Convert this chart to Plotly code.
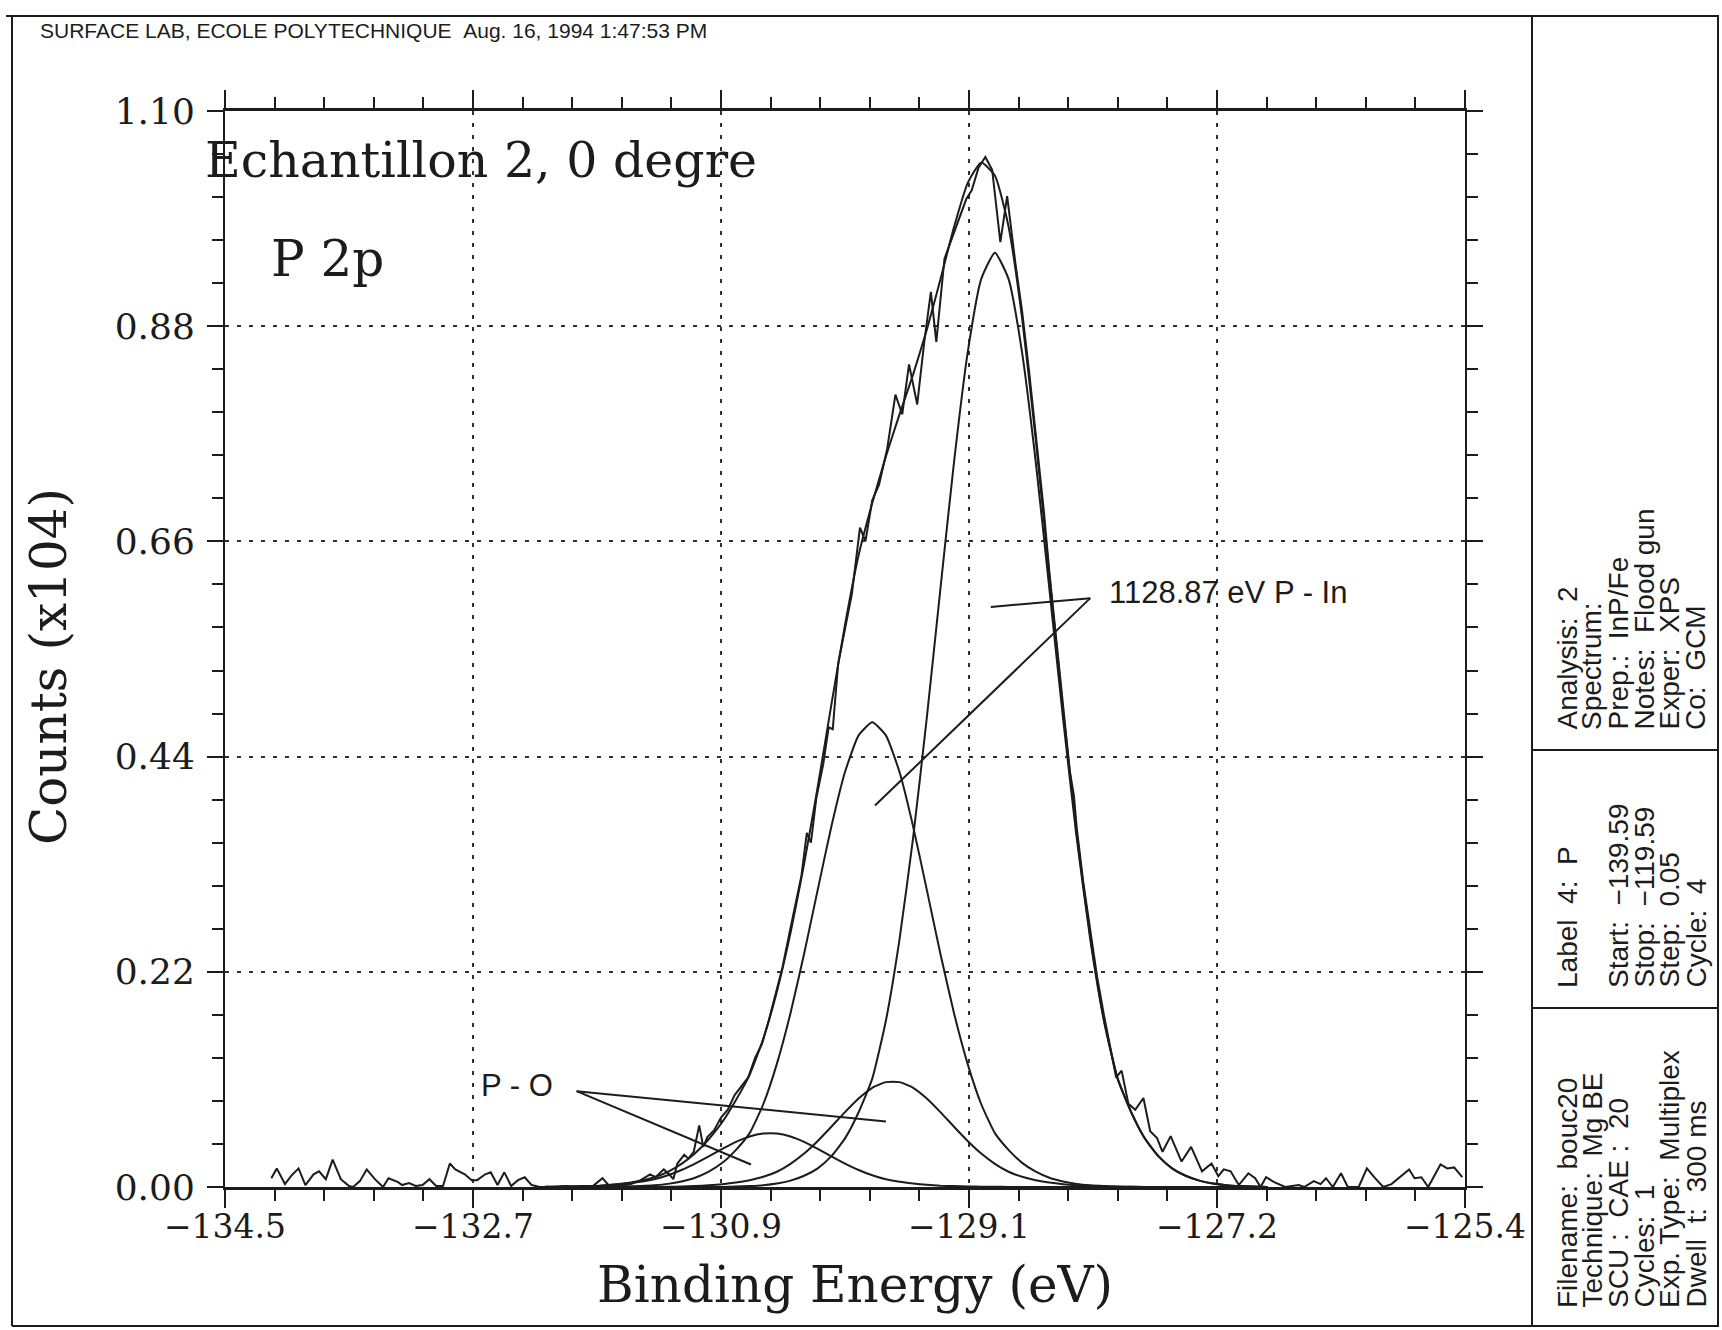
import plotly.graph_objects as go

# ---------------------------------------------------------------- data
# Energy grid (eV) shared by the fitted envelope and its four components
fit_energy = [
    -132.15, -132.05, -131.95, -131.85, -131.75, -131.65, -131.55, -131.45, -131.35, -131.25,
    -131.15, -131.05, -130.95, -130.85, -130.75, -130.65, -130.55, -130.45, -130.35, -130.25,
    -130.15, -130.05, -129.95, -129.85, -129.75, -129.65, -129.55, -129.45, -129.35, -129.25,
    -129.15, -129.05, -128.95, -128.85, -128.75, -128.65, -128.55, -128.45, -128.35, -128.25,
    -128.15, -128.05, -127.95, -127.85, -127.75, -127.65, -127.55, -127.45, -127.35, -127.25,
    -127.15, -127.05, -126.95, -126.85,
]

# Sum of the fitted peaks (counts x 10^4)
fit_envelope = [
    0.0002, 0.0003, 0.0005, 0.0009, 0.0014, 0.0025, 0.0041, 0.0064, 0.0099, 0.0155,
    0.0236, 0.0345, 0.0488, 0.0665, 0.0890, 0.1147, 0.1515, 0.1997, 0.2595, 0.3303,
    0.4092, 0.4931, 0.5745, 0.6460, 0.6992, 0.7468, 0.7898, 0.8308, 0.8762, 0.9277,
    0.9813, 1.0263, 1.0474, 1.0340, 0.9820, 0.8879, 0.7638, 0.6252, 0.4879, 0.3621,
    0.2559, 0.1715, 0.1116, 0.0768, 0.0498, 0.0315, 0.0191, 0.0115, 0.0065, 0.0036,
    0.0019, 0.0010, 0.0004, 0.0,
]

# P - In doublet, 2p3/2 and 2p1/2
peak_p_in_a = [
    0.0, 0.0, 0.0, 0.0, 0.0, 0.0, 0.0, 0.0, 0.0, 0.0,
    0.0, 0.0, 0.0, 0.0, 0.0004, 0.0010, 0.0019, 0.0036, 0.0065, 0.0115,
    0.0191, 0.0315, 0.0497, 0.0764, 0.1108, 0.1700, 0.2531, 0.3572, 0.4794, 0.6112,
    0.7411, 0.8528, 0.9283, 0.9550, 0.9283, 0.8528, 0.7411, 0.6112, 0.4794, 0.3572,
    0.2531, 0.1700, 0.1108, 0.0764, 0.0497, 0.0315, 0.0191, 0.0115, 0.0065, 0.0036,
    0.0019, 0.0010, 0.0004, 0.0,
]
peak_p_in_b = [
    0.0, 0.0, 0.0, 0.0, 0.0, 0.0002, 0.0005, 0.0010, 0.0018, 0.0032,
    0.0057, 0.0095, 0.0157, 0.0247, 0.0380, 0.0551, 0.0846, 0.1259, 0.1777, 0.2385,
    0.3040, 0.3686, 0.4242, 0.4617, 0.4750, 0.4617, 0.4242, 0.3686, 0.3040, 0.2385,
    0.1777, 0.1259, 0.0846, 0.0551, 0.0380, 0.0247, 0.0157, 0.0095, 0.0057, 0.0032,
    0.0018, 0.0010, 0.0005, 0.0002, 0.0, 0.0, 0.0, 0.0, 0.0, 0.0,
    0.0, 0.0, 0.0, 0.0,
]

# P - O doublet
peak_p_o_a = [
    0.0, 0.0, 0.0, 0.0, 0.0, 0.0, 0.0, 0.0001, 0.0002, 0.0003,
    0.0005, 0.0010, 0.0017, 0.0028, 0.0045, 0.0070, 0.0104, 0.0156, 0.0237, 0.0342,
    0.0471, 0.0616, 0.0766, 0.0905, 0.1014, 0.1072, 0.1072, 0.1014, 0.0905, 0.0766,
    0.0616, 0.0471, 0.0342, 0.0237, 0.0156, 0.0104, 0.0070, 0.0045, 0.0028, 0.0017,
    0.0010, 0.0005, 0.0003, 0.0002, 0.0001, 0.0, 0.0, 0.0, 0.0, 0.0,
    0.0, 0.0, 0.0, 0.0,
]
peak_p_o_b = [
    0.0002, 0.0003, 0.0005, 0.0009, 0.0014, 0.0023, 0.0036, 0.0053, 0.0079, 0.0120,
    0.0174, 0.0240, 0.0314, 0.0390, 0.0461, 0.0516, 0.0546, 0.0546, 0.0516, 0.0461,
    0.0390, 0.0314, 0.0240, 0.0174, 0.0120, 0.0079, 0.0053, 0.0036, 0.0023, 0.0014,
    0.0009, 0.0005, 0.0003, 0.0002, 0.0001, 0.0, 0.0, 0.0, 0.0, 0.0,
    0.0, 0.0, 0.0, 0.0, 0.0, 0.0, 0.0, 0.0, 0.0, 0.0,
    0.0, 0.0, 0.0, 0.0,
]

# Measured spectrum
raw_energy = [
    -134.16, -134.12, -134.06, -134.01, -133.96, -133.91, -133.85, -133.81, -133.76, -133.71,
    -133.65, -133.59, -133.56, -133.51, -133.46, -133.40, -133.34, -133.30, -133.23, -133.20,
    -133.15, -133.10, -133.05, -133.00, -132.95, -132.90, -132.85, -132.81, -132.74, -132.69,
    -132.65, -132.59, -132.55, -132.50, -132.45, -132.40, -132.35, -132.30, -132.25, -132.19,
    -132.10, -132.00, -131.90, -131.80, -131.73, -131.68, -131.60, -131.52, -131.45, -131.38,
    -131.34, -131.28, -131.24, -131.21, -131.18, -131.13, -131.10, -131.06, -131.02, -130.99,
    -130.96, -130.91, -130.86, -130.81, -130.76, -130.72, -130.66, -130.61, -130.56, -130.51,
    -130.46, -130.41, -130.36, -130.31, -130.27, -130.23, -130.20, -130.16, -130.11, -130.07,
    -130.04, -130.00, -129.95, -129.90, -129.84, -129.80, -129.75, -129.70, -129.64, -129.58,
    -129.53, -129.48, -129.42, -129.37, -129.32, -129.28, -129.22, -129.17, -129.11, -129.06,
    -129.02, -128.97, -128.92, -128.87, -128.81, -128.76, -128.70, -128.65, -128.60, -128.55,
    -128.52, -128.49, -128.45, -128.40, -128.35, -128.30, -128.27, -128.25, -128.20, -128.15,
    -128.10, -128.05, -128.00, -127.96, -127.92, -127.87, -127.82, -127.76, -127.71, -127.66,
    -127.62, -127.56, -127.48, -127.41, -127.33, -127.26, -127.21, -127.17, -127.12, -127.06,
    -126.99, -126.94, -126.90, -126.86, -126.80, -126.72, -126.62, -126.58, -126.51, -126.46,
    -126.42, -126.37, -126.31, -126.26, -126.18, -126.12, -126.06, -126.00, -125.94, -125.89,
    -125.81, -125.77, -125.72, -125.67, -125.58, -125.53, -125.48, -125.42,
]
raw_counts = [
    0.009, 0.019, 0.003, 0.012, 0.019, 0.002, 0.013, 0.016, 0.008, 0.028,
    0.008, 0.001, 0.000, 0.006, 0.018, 0.008, 0.000, 0.009, 0.005, 0.002,
    0.004, 0.001, 0.002, 0.008, 0.001, 0.001, 0.024, 0.018, 0.013, 0.007,
    0.007, 0.013, 0.015, 0.002, 0.015, 0.001, 0.007, 0.010, 0.002, 0.000,
    0.000, 0.001, 0.000, 0.001, 0.009, 0.001, 0.001, 0.003, 0.007, 0.013,
    0.010, 0.018, 0.013, 0.008, 0.024, 0.033, 0.029, 0.036, 0.063, 0.041,
    0.051, 0.058, 0.071, 0.079, 0.094, 0.101, 0.112, 0.132, 0.146, 0.170,
    0.196, 0.224, 0.258, 0.290, 0.318, 0.362, 0.352, 0.398, 0.432, 0.470,
    0.468, 0.535, 0.572, 0.606, 0.674, 0.660, 0.702, 0.718, 0.755, 0.810,
    0.790, 0.841, 0.800, 0.862, 0.915, 0.864, 0.949, 0.968, 0.989, 1.010,
    1.019, 1.042, 1.053, 1.040, 0.966, 1.013, 0.945, 0.895, 0.835, 0.768,
    0.735, 0.690, 0.628, 0.560, 0.490, 0.425, 0.400, 0.368, 0.310, 0.262,
    0.215, 0.176, 0.140, 0.112, 0.119, 0.085, 0.079, 0.091, 0.057, 0.050,
    0.036, 0.052, 0.026, 0.041, 0.016, 0.024, 0.011, 0.018, 0.016, 0.002,
    0.014, 0.009, 0.000, 0.010, 0.005, 0.000, 0.002, 0.000, 0.006, 0.003,
    0.009, 0.000, 0.014, 0.000, 0.000, 0.019, 0.009, 0.000, 0.003, 0.009,
    0.018, 0.009, 0.010, 0.000, 0.023, 0.019, 0.020, 0.010,
]

# Axis labelling
x_tick_labels = ["\u2212134.5", "\u2212132.7", "\u2212130.9", "\u2212129.1", "\u2212127.2", "\u2212125.4"]
y_tick_labels = ["0.00", "0.22", "0.44", "0.66", "0.88", "1.10"]
x_range = [-134.5, -125.4]
y_range = [0.0, 1.10]

# Acquisition summary printed in the side panel (three boxes)
panel_analysis = ["Analysis:  2", "Spectrum:", "Prep.:  InP/Fe", "Notes:  Flood gun", "Exper:  XPS", "Co:  GCM"]
panel_region = ["Label  4:  P", "", "Start:  \u2212139.59", "Stop:  \u2212119.59", "Step:  0.05", "Cycle:  4"]
panel_file = ["Filename:  bouc20", "Technique:  Mg BE", "SCU :  CAE :  20", "Cycles:  1",
              "Exp. Type:  Multiplex", "Dwell  t:  300 ms"]

# ---------------------------------------------------------------- layout
W, H = 1722, 1330
L, R, T, B = 225, 1465, 111, 1187          # plot area in pixels
INK = "#1c1c1c"
SERIF = "DejaVu Serif"
SANS = "Liberation Sans, Arial, sans-serif"


def px(xp):
    return (xp - L) / (R - L)


def py(yp):
    return (B - yp) / (B - T)


n_major = len(x_tick_labels)
x_step = (x_range[1] - x_range[0]) / (n_major - 1)
x_major = [x_range[0] + i * x_step for i in range(n_major)]
x_minor = [x_range[0] + j * x_step / 5 for j in range(5 * (n_major - 1) + 1) if j % 5]
y_step = (y_range[1] - y_range[0]) / (len(y_tick_labels) - 1)
y_major = [y_range[0] + i * y_step for i in range(len(y_tick_labels))]
y_minor = [y_range[0] + j * y_step / 5 for j in range(5 * (len(y_tick_labels) - 1) + 1) if j % 5]

fig = go.Figure()

curve = dict(color=INK, width=2, shape="spline", smoothing=0.5)
for comp in (peak_p_o_b, peak_p_o_a, peak_p_in_b, peak_p_in_a):
    fig.add_trace(go.Scatter(x=fit_energy, y=comp, mode="lines", line=curve, hoverinfo="skip"))
fig.add_trace(go.Scatter(x=fit_energy, y=fit_envelope, mode="lines", line=curve, hoverinfo="skip"))
fig.add_trace(go.Scatter(x=raw_energy, y=raw_counts, mode="lines",
                         line=dict(color=INK, width=2), hoverinfo="skip"))

axis_common = dict(
    tickmode="array", ticks="outside", tickwidth=2, tickcolor=INK,
    showline=True, linecolor=INK, mirror="ticks",
    showgrid=True, gridcolor="#303030", gridwidth=2, griddash="4px,8px",
    zeroline=False,
)

fig.update_xaxes(
    range=x_range, tickvals=x_major, ticktext=x_tick_labels, ticklen=18, linewidth=3,
    minor=dict(tickvals=x_minor, ticklen=11, tickwidth=2, tickcolor=INK, showgrid=False),
    ticklabelstandoff=-10, tickfont=dict(family=SERIF, size=33, color=INK), **axis_common,
)
fig.update_yaxes(
    range=y_range, tickvals=y_major, ticktext=y_tick_labels, ticklen=16, linewidth=2,
    minor=dict(tickvals=y_minor, ticklen=11, tickwidth=2, tickcolor=INK, showgrid=False),
    ticklabelstandoff=5, tickfont=dict(family=SERIF, size=36, color=INK), **axis_common,
)

shapes = []
# outer frame and the side-panel boxes
frame = dict(type="line", xref="paper", yref="paper", line=dict(color=INK, width=2))
for (x0, y0, x1, y1) in [
    (6, 16, 1719, 16), (12, 16, 12, 1326), (12, 1326, 1719, 1326), (1718, 16, 1718, 1326),
    (1532, 16, 1532, 1326), (1532, 750, 1718, 750), (1532, 1008, 1718, 1008),
]:
    shapes.append(dict(frame, x0=px(x0), y0=py(y0), x1=px(x1), y1=py(y1)))

# leader lines of the peak labels
p_in_origin = (-128.15, 0.602)
p_in_targets = [(-128.88, 0.593), (-129.73, 0.390)]
p_o_origin = (-131.92, 0.098)
p_o_targets = [(-129.65, 0.067), (-130.64, 0.023)]
for origin, targets in ((p_in_origin, p_in_targets), (p_o_origin, p_o_targets)):
    for tx, ty in targets:
        shapes.append(dict(type="line", xref="x", yref="y", x0=origin[0], y0=origin[1],
                           x1=tx, y1=ty, line=dict(color=INK, width=2)))

ann = []


def text(s, x, y, size, family, xanchor="left", yanchor="middle", angle=0, xref="paper", yref="paper"):
    ann.append(dict(text=s, x=x, y=y, xref=xref, yref=yref, showarrow=False,
                    xanchor=xanchor, yanchor=yanchor, textangle=angle,
                    font=dict(family=family, size=size, color=INK)))


text("SURFACE LAB, ECOLE POLYTECHNIQUE&nbsp;&nbsp;Aug. 16, 1994 1:47:53 PM",
     px(38), py(31), 21, SANS)
text("Echantillon 2, 0 degre", px(203), py(161), 49, SERIF)
text("P 2p", px(269), py(259), 50, SERIF)
text("Counts (x104)", px(49), py(667), 50, SERIF, xanchor="center", angle=-90)
text("Binding Energy (eV)", px(855), py(1285), 50, SERIF, xanchor="center")
text("1128.87 eV P - In", -128.03, 0.608, 31, SANS, xref="x", yref="y")
text("P - O", -132.36, 0.104, 31, SANS, xanchor="center", xref="x", yref="y")

columns = [1567, 1592, 1618, 1644, 1669, 1696]
for lines, start in ((panel_analysis, 732), (panel_region, 990), (panel_file, 1310)):
    for col, s in zip(columns, lines):
        if s:
            text(s.replace("  ", "&nbsp;&nbsp;"), px(col), py(start), 28, SANS,
                 xanchor="center", yanchor="bottom", angle=-90)

fig.update_layout(
    width=W, height=H, showlegend=False,
    margin=dict(l=L, r=W - R, t=T, b=H - B, pad=0),
    paper_bgcolor="white", plot_bgcolor="white",
    shapes=shapes, annotations=ann,
)

fig.write_html("out.html")
